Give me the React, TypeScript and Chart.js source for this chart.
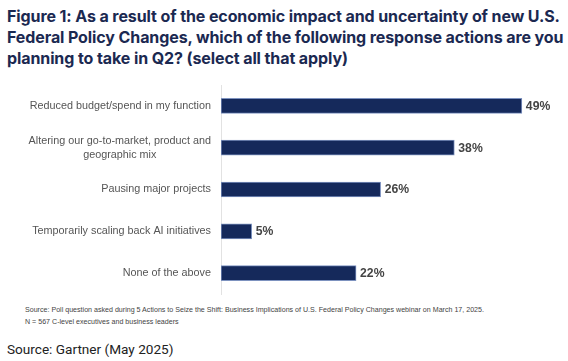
import React, { useEffect, useRef } from "react";
import { Chart, registerables } from "chart.js";

Chart.register(...registerables);

const titleLines = [
  "Figure 1: As a result of the economic impact and uncertainty of new U.S.",
  "Federal Policy Changes, which of the following response actions are you",
  "planning to take in Q2? (select all that apply)",
];

const categories: (string | string[])[] = [
  "Reduced budget/spend in my function",
  ["Altering our go-to-market, product and", "geographic mix"],
  "Pausing major projects",
  "Temporarily scaling back AI initiatives",
  "None of the above",
];

const values = [49, 38, 26, 5, 22];

const footnotes = [
  "Source: Poll question asked during 5 Actions to Seize the Shift: Business Implications of U.S. Federal Policy Changes webinar on March 17, 2025.",
  "N = 567 C-level executives and business leaders",
];

const sourceLine = "Source: Gartner (May 2025)";

const CANVAS_TOP = 80;

const labelPlugin = {
  id: "customLabels",
  afterDraw(chart: any) {
    const ctx = chart.ctx;
    const yScale = chart.scales.y;
    const meta = chart.getDatasetMeta(0);
    ctx.save();
    ctx.font = "10.8px 'Liberation Sans', Arial, sans-serif";
    ctx.fillStyle = "#555555";
    ctx.textBaseline = "middle";
    ctx.textAlign = "center";
    const rightX = chart.chartArea.left - 10;
    const lh = 14;
    categories.forEach((cat, i) => {
      const lines = Array.isArray(cat) ? cat : [cat];
      const y = yScale.getPixelForValue(i);
      const maxW = Math.max(...lines.map((l) => ctx.measureText(l).width));
      const cx = rightX - maxW / 2;
      lines.forEach((l, j) => {
        const ly = y + (j - (lines.length - 1) / 2) * lh;
        ctx.fillText(l, cx, ly);
      });
    });
    ctx.font = "bold 12.2px 'Liberation Sans', Arial, sans-serif";
    ctx.fillStyle = "#444444";
    ctx.textAlign = "left";
    meta.data.forEach((bar: any, i: number) => {
      ctx.fillText(values[i] + "%", bar.x + 4, bar.y + 0.5);
    });
    ctx.restore();
  },
};

function ChartCanvas() {
  const ref = useRef<HTMLCanvasElement | null>(null);
  useEffect(() => {
    if (!ref.current) return;
    const chart = new Chart(ref.current, {
      type: "bar",
      data: {
        labels: categories.map((c) => (Array.isArray(c) ? c.join(" ") : c)),
        datasets: [
          {
            data: values,
            backgroundColor: "#15295b",
            borderColor: "#7d92bf",
            borderWidth: 1,
            borderSkipped: false,
            barThickness: 15,
          },
        ],
      },
      options: {
        indexAxis: "y",
        animation: false,
        responsive: false,
        devicePixelRatio: 1,
        layout: { padding: { left: 221, right: 40, top: 5, bottom: 6 } },
        plugins: {
          legend: { display: false },
          tooltip: { enabled: false },
          title: { display: false },
        },
        scales: {
          x: { display: false, min: 0, max: 50 },
          y: {
            display: true,
            grid: { display: false },
            border: { display: true, color: "#e2e2e2", width: 1 },
            ticks: { display: false },
            afterFit: (s: any) => {
              s.width = 0;
            },
          },
        },
      },
      plugins: [labelPlugin],
    });
    return () => chart.destroy();
  }, []);
  return (
    <canvas
      ref={ref}
      width={568}
      height={220}
      style={{ position: "absolute", left: 0, top: CANVAS_TOP, width: 568, height: 220 }}
    />
  );
}

export default function App() {
  return (
    <div
      style={{
        position: "fixed",
        left: 0,
        top: 0,
        width: 568,
        height: 361,
        background: "#ffffff",
        overflow: "hidden",
      }}
    >
      <div
        style={{
          position: "absolute",
          left: 7,
          top: 6,
          fontFamily: "Inter, 'Noto Sans', sans-serif",
          fontWeight: 700,
          fontSize: 16,
          lineHeight: "21px",
          color: "#1b2951",
          whiteSpace: "nowrap",
          letterSpacing: "-0.1px",
        }}
      >
        {titleLines.map((l, i) => (
          <div key={i}>{l}</div>
        ))}
      </div>
      <ChartCanvas />
      <div
        style={{
          position: "absolute",
          left: 25,
          top: 305,
          fontFamily: "'Liberation Sans', Arial, sans-serif",
          fontSize: 7.1,
          lineHeight: "11.5px",
          color: "#444444",
          whiteSpace: "nowrap",
        }}
      >
        {footnotes.map((l, i) => (
          <div key={i}>{l}</div>
        ))}
      </div>
      <div
        style={{
          position: "absolute",
          left: 7,
          top: 340,
          fontFamily: "Roboto, sans-serif",
          fontSize: 13.6,
          lineHeight: "18px",
          color: "#222222",
          whiteSpace: "nowrap",
        }}
      >
        {sourceLine}
      </div>
    </div>
  );
}
